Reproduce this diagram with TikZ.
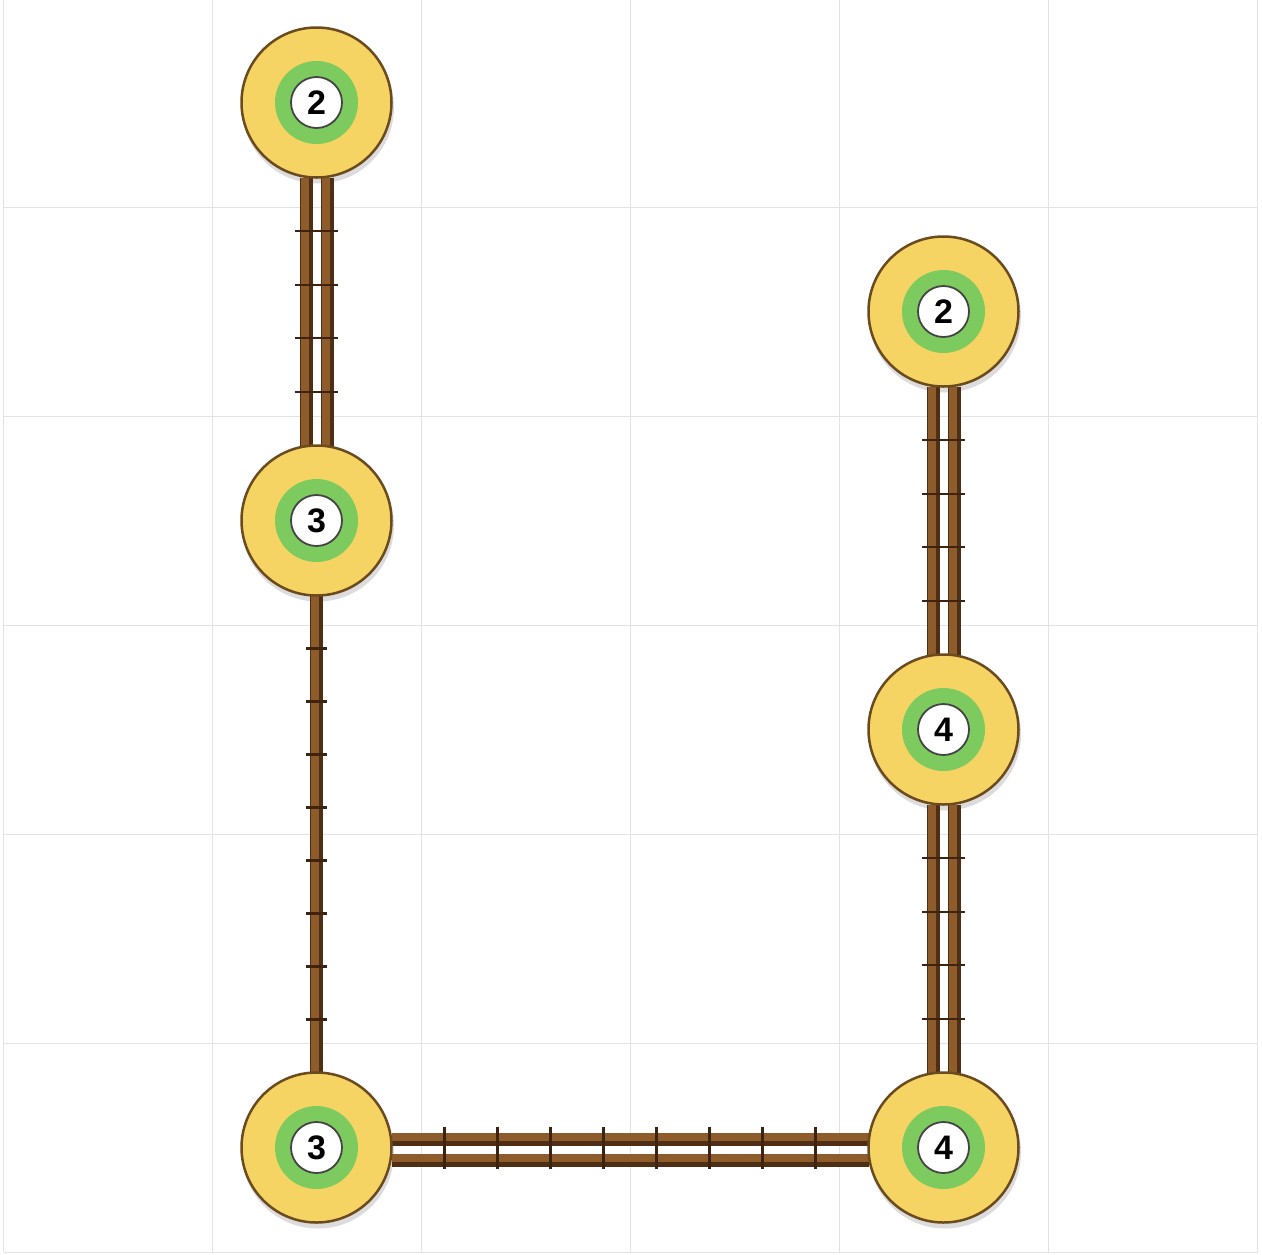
\documentclass[tikz,border=0pt]{standalone}
\usepackage{fontspec}
\setmainfont{Liberation Sans}
\usetikzlibrary{calc}
\definecolor{gridc}{HTML}{E3E3E3}
\definecolor{yellowc}{HTML}{F5D464}
\definecolor{outlinec}{HTML}{6B4A1E}
\definecolor{greenc}{HTML}{7DCB5F}
\definecolor{innerc}{HTML}{444444}
\definecolor{raillightc}{HTML}{8E5B2B}
\definecolor{raildarkc}{HTML}{4E2E14}
\definecolor{tickc}{HTML}{3E2410}
\definecolor{shadowc}{HTML}{DCDCDC}
\pgfdeclarelayer{bgzero}
\pgfdeclarelayer{bgone}
\pgfsetlayers{bgzero,bgone,main}
\tikzset{
  stationbox/.style={circle, minimum size=150pt, inner sep=0pt, outer sep=0pt, fill=yellowc, draw=outlinec, line width=2.5pt},
  ringbox/.style={circle, minimum size=83pt, inner sep=0pt, fill=greenc},
  labelbox/.style={circle, minimum size=51pt, inner sep=0pt, fill=white, draw=innerc, line width=1.8pt, font=\fontsize{34}{34}\selectfont\bfseries},
  raildark/.style={draw=raildarkc, line width=13pt},
  raillight/.style={draw=raillightc, line width=8pt},
  tickline/.style={draw=tickc, line width=2.2pt},
  gridline/.style={draw=gridc, line width=1pt}
}
\newcommand\station[3]{%
  \node[stationbox] (#1) at (#2) {};
  \node[ringbox] (#1r) at (#2) {};
  \node[labelbox] (#1l) at (#2) {#3};
}
% vertical rail: from node #1 (south) to node #2 (north), x offset #3
\newcommand\railV[3]{%
  \draw[raildark] ($(#1.south)+(#3,0)$) -- ($(#2.north)+(#3,0)$);
  \draw[raillight] ($(#1.south)+(#3-1.5,0)$) -- ($(#2.north)+(#3-1.5,0)$);
}
% horizontal rail: from node #1 (east) to node #2 (west), y offset #3
\newcommand\railH[3]{%
  \draw[raildark] ($(#1.east)+(0,#3)$) -- ($(#2.west)+(0,#3)$);
  \draw[raillight] ($(#1.east)+(0,#3-2.5)$) -- ($(#2.west)+(0,#3-2.5)$);
}
\begin{document}
\begin{tikzpicture}[x=1pt,y=-1pt]
\useasboundingbox (0,0) rectangle (1262,1254);
% stations
\station{A}{316.5,102.5}{2}
\station{B}{316.5,520.5}{3}
\station{C}{316.5,1147.5}{3}
\station{D}{943.5,311.5}{2}
\station{E}{943.5,729.5}{4}
\station{F}{943.5,1147.5}{4}
\begin{pgfonlayer}{bgzero}
  \fill[white] (0,0) rectangle (1262,1254);
  \foreach \i in {0,...,6} {
    \draw[gridline] ({3.5+209*\i},0) -- ({3.5+209*\i},1252);
  }
  \foreach \j in {1,...,6} {
    \draw[gridline] (3.5,{-2+209*\j}) -- (1257.5,{-2+209*\j});
  }
  \foreach \n in {A,B,C,D,E,F} {
    \fill[shadowc] ($(\n)+(1.5,5)$) circle (76);
  }
\end{pgfonlayer}
\begin{pgfonlayer}{bgone}
  % A - B double
  \railV{A}{B}{-10.5}
  \railV{A}{B}{10.5}
  \foreach \k in {1,...,4} {
    \draw[tickline] ($(A.south)!\k/5!(B.north)+(-21.5,0)$) -- ++(43,0);
  }
  % B - C single
  \railV{B}{C}{0}
  \foreach \k in {1,...,8} {
    \draw[tickline] ($(B.south)!\k/9!(C.north)+(-10.5,0)$) -- ++(21,0);
  }
  % D - E double
  \railV{D}{E}{-10.5}
  \railV{D}{E}{10.5}
  \foreach \k in {1,...,4} {
    \draw[tickline] ($(D.south)!\k/5!(E.north)+(-21.5,0)$) -- ++(43,0);
  }
  % E - F double
  \railV{E}{F}{-10.5}
  \railV{E}{F}{10.5}
  \foreach \k in {1,...,4} {
    \draw[tickline] ($(E.south)!\k/5!(F.north)+(-21.5,0)$) -- ++(43,0);
  }
  % C - F double horizontal
  \railH{C}{F}{-8.5}
  \railH{C}{F}{12.5}
  \foreach \k in {1,...,8} {
    \draw[tickline] ($(C.east)!\k/9!(F.west)+(0,-21)$) -- ++(0,42);
  }
\end{pgfonlayer}
\end{tikzpicture}
\end{document}
